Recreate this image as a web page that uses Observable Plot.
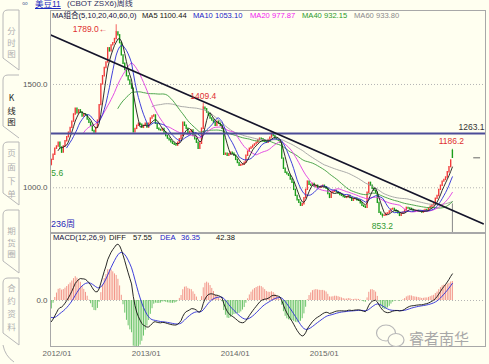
<!DOCTYPE html>
<html><head><meta charset="utf-8">
<script src="https://cdn.jsdelivr.net/npm/d3@7"></script>
<script src="https://cdn.jsdelivr.net/npm/@observablehq/plot@0.6"></script>
<style>
html,body{margin:0;padding:0;}
body{background:#fffff0;width:489px;height:364px;overflow:hidden;position:relative;font-family:"Liberation Sans","Noto Sans CJK SC",sans-serif;}
.abs{position:absolute;white-space:nowrap;}
.hdr{font-size:7.6px;line-height:11px;}
</style></head><body>
<svg id="chrome" class="abs" style="left:0;top:0;pointer-events:none" width="489" height="364"></svg>
<div id="price" class="abs" style="left:0;top:0"></div>
<div id="macd" class="abs" style="left:0;top:232px"></div>
<div id="texts"></div>
<svg id="wm" class="abs" style="left:0;top:0;pointer-events:none" width="489" height="364"></svg>
<script>
// ---------- data ----------
const firstWeek = "2011-12-09";
const closes = [
1135,1160,1189,1200,1218,1195,1170,1200,1225,1245,
1267,1290,1320,1355,1383,1360,1375,1364,1345,1355,
1350,1330,1315,1300,1275,1267,1290,1325,1400,1500,
1540,1580,1607,1675,1660,1689,1700,1720,1752,1738,
1700,1641,1600,1570,1540,1520,1500,1480,1268,1285,
1300,1310,1305,1290,1300,1310,1291,1310,1335,1345,
1350,1310,1286,1280,1277,1285,1267,1250,1238,1230,
1220,1213,1208,1204,1218,1235,1252,1315,1300,1286,
1262,1270,1277,1250,1235,1218,1189,1213,1286,1388,
1380,1364,1350,1335,1325,1315,1300,1320,1310,1300,
1285,1160,1165,1155,1162,1170,1165,1155,1135,1120,
1107,1110,1112,1121,1155,1175,1189,1195,1204,1210,
1218,1230,1238,1235,1228,1222,1218,1232,1243,1262,
1250,1238,1232,1228,1218,1141,1092,1073,1065,1058,
1040,1024,990,961,940,927,913,920,950,990,
1030,1015,1010,1019,1005,1010,1000,1000,1005,1010,
1003,995,970,951,976,980,985,978,971,965,
961,955,951,955,961,950,937,945,947,940,
937,925,913,908,903,976,1024,1010,995,985,
976,927,879,870,864,866,874,876,885,895,
898,890,885,876,864,875,880,890,903,900,
898,893,885,888,888,886,885,880,888,893,
890,900,908,915,920,947,960,990,1010,1030,
1038,1050,1075,1100,1132,1145
];
const openIdx = [0, 235];
const openVal = [1112, 1178];
const maPeriods = [5, 10, 20, 40, 60];
const maColors = ["#1a1a1a", "#2b2bd6", "#e03ce0", "#3c9c3c", "#a0a0a0"];
const maLabels = ["MA5 1100.44", "MA10 1053.10", "MA20 977.87", "MA40 932.15", "MA60 933.80"];
const maGroupLabel = "MA组合(5,10,20,40,60,0)";
const priceTicks = [1000, 1500];
const resistance = 1263.1;
const trendDates = ["2011-12-09", "2016-10-14"];
const trendPrices = [1738, 826];
const annoText = ["1789.0←", "1409.4", "1186.2", "853.2", "5.6"];
const annoIdx = [38, 89, 235, 194, 0];
const annoVal = [1789.0, 1409.4, 1186.2, 853.2, 1105.6];
const cursorTop = 922;
const macdParams = [12, 26, 9];
const macdSeed = [-45, -36];
const macdHeader = ["MACD(12,26,9)", "DIFF", "57.55", "DEA", "36.35", "42.38"];
const yearTicks = ["2012-01-01", "2013-01-01", "2014-01-01", "2015-01-01"];
const barCountLabel = "236周";
const titleParts = ["美豆11", "(CBOT  ZSX6)周线"];
const tabLabels = ["分时图", "K线图", "页面下单", "期货圈", "合约资料"];
const watermark = "睿者南华";

// ---------- derived ----------
const WEEK = 7 * 864e5;
const t0 = new Date(firstWeek + "T00:00:00Z");
const bars = closes.map((c, i) => {
  const j = openIdx.indexOf(i);
  const open = j >= 0 ? openVal[j] : closes[i - 1];
  return {i, date: new Date(+t0 + i * WEEK), open, close: c};
});
const xDomain = [new Date(+t0 - 0.5 * WEEK), new Date(+t0 + 254.4 * WEEK)];
const UP = "#f23c3c", DOWN = "#1a9e1a";

function sma(n) {
  return closes.map((_, i) => i < n - 1 ? NaN : d3.mean(closes.slice(i - n + 1, i + 1)));
}
const maSeries = maPeriods.map((n, k) =>
  sma(n).map((v, i) => ({date: bars[i].date, v})).filter(d => !isNaN(d.v)));

// MACD
const [fast, slow, sig] = macdParams;
const a1 = 2 / (fast + 1), a2 = 2 / (slow + 1), a3 = 2 / (sig + 1);
let e1 = closes[0], e2 = closes[0] - macdSeed[0], dea = macdSeed[1];
const macdRows = closes.map((c, i) => {
  if (i > 0) {
    e1 = a1 * c + (1 - a1) * e1;
    e2 = a2 * c + (1 - a2) * e2;
    dea = a3 * (e1 - e2) + (1 - a3) * dea;
  }
  const diff = e1 - e2;
  return {date: bars[i].date, diff, dea, hist: 2 * (diff - dea)};
});

const trend = trendDates.map((d, k) => ({date: new Date(d + "T00:00:00Z"), p: trendPrices[k]}));
const annos = annoText.map((t, k) => {
  const b = bars[annoIdx[k]];
  return {text: t, date: b.date, v: annoVal[k], b};
});

const font = "Liberation Sans, Noto Sans CJK SC, sans-serif";

// ---------- price panel ----------
const wickMarks = annos.map(a => {
  const hi = a.v > Math.max(a.b.open, a.b.close);
  const y1 = hi ? Math.max(a.b.open, a.b.close) : Math.min(a.b.open, a.b.close);
  return Plot.ruleX([a], {x: "date", y1: () => y1, y2: "v",
    stroke: a.b.close >= a.b.open ? UP : DOWN, strokeWidth: 0.8});
});
const annoStyle = [
  {textAnchor: "end", dx: -9, dy: 5, fill: "#e03030"},
  {textAnchor: "middle", dx: 0, dy: -7, fill: "#e03030"},
  {textAnchor: "middle", dx: -1, dy: -8, fill: "#e03030"},
  {textAnchor: "middle", dx: 0, dy: 8, fill: "#2f9a2f"},
  {textAnchor: "start", dx: 0, dy: 7, fill: "#2f9a2f"}
];
const annoMarks = annos.map((a, k) => Plot.text([a], {x: "date", y: "v", text: "text",
  fontSize: 8.5, ...annoStyle[k]}));

const lastBar = bars[bars.length - 1];
const pricePlot = Plot.plot({
  width: 489, height: 234,
  marginTop: 10, marginBottom: 2, marginLeft: 50, marginRight: 4,
  style: {background: "transparent", fontFamily: font, overflow: "visible"},
  x: {type: "utc", domain: xDomain, axis: null},
  y: {domain: [783.6, 1858]},
  marks: [
    Plot.ruleY(priceTicks, {stroke: "#b4b4b4", strokeDasharray: "1,2"}),
    Plot.axisY({ticks: priceTicks, tickFormat: d => d.toFixed(1), tickSize: 0, tickPadding: 3,
      fontSize: 8, color: "#555", label: null}),
    Plot.ruleX([lastBar], {x: "date", y1: () => cursorTop, y2: () => 783.6, stroke: "#888", strokeWidth: 1}),
    ...wickMarks,
    Plot.ruleX(bars.filter(d => d.close >= d.open), {x: "date", y1: "open", y2: "close",
      stroke: UP, strokeWidth: 1.4, strokeLinecap: "square", clip: true}),
    Plot.ruleX(bars.filter(d => d.close < d.open), {x: "date", y1: "open", y2: "close",
      stroke: DOWN, strokeWidth: 1.4, strokeLinecap: "square", clip: true}),
    ...maSeries.slice().reverse().map((s, r) => Plot.line(s, {x: "date", y: "v",
      stroke: maColors[maSeries.length - 1 - r], strokeWidth: 0.9, clip: true})),
    Plot.ruleY([resistance], {stroke: "#4c4c98", strokeWidth: 2}),
    Plot.text([resistance], {x: () => xDomain[1], y: d => d, text: d => d.toFixed(1),
      textAnchor: "end", dx: -1, dy: -6, fontSize: 8.5, fill: "#333"}),
    Plot.line(trend, {x: "date", y: "p", stroke: "#15152a", strokeWidth: 1.8, clip: true}),
    Plot.ruleY([lastBar], {x1: d => new Date(+d.date + 12.5 * WEEK), x2: d => new Date(+d.date + 16.5 * WEEK),
      y: "close", stroke: "#666", strokeWidth: 1}),
    ...annoMarks,
    Plot.frame({stroke: "#a8a8a8"})
  ]
});
document.getElementById("price").append(pricePlot);

// ---------- MACD panel ----------
const macdPlot = Plot.plot({
  width: 489, height: 132,
  marginTop: 1, marginBottom: 18, marginLeft: 50, marginRight: 4,
  style: {background: "transparent", fontFamily: font, overflow: "visible"},
  x: {type: "utc", domain: xDomain},
  y: {domain: [-97.9, 142.6]},
  marks: [
    Plot.ruleY([0], {stroke: "#b4b4b4", strokeDasharray: "1,2"}),
    Plot.axisY({ticks: [0], tickFormat: d => d.toFixed(1), tickSize: 0, tickPadding: 3,
      fontSize: 8, color: "#555", label: null}),
    Plot.axisX({ticks: yearTicks.map(d => new Date(d + "T00:00:00Z")), tickFormat: d3.utcFormat("%Y/%m"),
      tickSize: 0, tickPadding: 4, fontSize: 8, color: "#666", label: null}),
    Plot.ruleX(macdRows.filter(d => d.hist >= 0), {x: "date", y1: () => 0, y2: "hist",
      stroke: "#f3978b", strokeWidth: 1, clip: true}),
    Plot.ruleX(macdRows.filter(d => d.hist < 0), {x: "date", y1: () => 0, y2: "hist",
      stroke: "#6cc46c", strokeWidth: 1, clip: true}),
    Plot.line(macdRows, {x: "date", y: "dea", stroke: "#2a2ad8", strokeWidth: 0.9, clip: true}),
    Plot.line(macdRows, {x: "date", y: "diff", stroke: "#111", strokeWidth: 0.9, clip: true}),
    Plot.frame({stroke: "#a8a8a8"})
  ]
});
document.getElementById("macd").append(macdPlot);

// ---------- header texts ----------
const texts = document.getElementById("texts");
function addText(str, left, top, style) {
  const s = document.createElement("div");
  s.className = "abs hdr";
  s.textContent = str;
  s.style.left = left + "px";
  s.style.top = top + "px";
  Object.assign(s.style, style || {});
  texts.append(s);
  return s;
}
addText(maGroupLabel, 52, 10, {color: "#101040"});
const maLeft = [142, 193, 250, 302, 354];
const maTextColors = ["#111", "#2020c8", "#f020f0", "#2a9a2a", "#8a8a8a"];
maLabels.forEach((t, k) => addText(t, maLeft[k], 10, {color: maTextColors[k]}));
const mhLeft = [53, 109, 133, 160, 181, 216];
const mhColors = ["#101040", "#111", "#111", "#2020c8", "#2020c8", "#111"];
macdHeader.forEach((t, k) => addText(t, mhLeft[k], 232, {color: mhColors[k]}));
addText(barCountLabel, 51, 219, {color: "#2a2ab8", fontSize: "9px"});
addText(titleParts[0], 35, -1, {color: "#1a2ac0", fontSize: "8.5px", lineHeight: "10px", textDecoration: "underline"});
addText(titleParts[1], 67, -1, {color: "#303060", fontSize: "8px", lineHeight: "10px"});

// ---------- sidebar chrome ----------
const svg = d3.select("#chrome");
svg.append("text").attr("x", 22).attr("y", 6).attr("font-size", 8).attr("fill", "#6070a0").text("∞");
const tabBox = [[10, 70], [75, 138], [142, 205], [210, 273], [278, 345]];
const tabChars = [[30, 42, 53], [97, 110, 121], [152, 166, 180, 193], [230, 242, 253], [287, 300, 313, 326]];
tabBox.forEach(([y0, y1], k) => {
  const right = k === 1 ? "" : ` V${y0}`;
  svg.append("path")
    .attr("d", `M19,${y0} H8 Q3,${y0} 3,${y0 + 5} V${y1 - 12} L19,${y1}` + (k === 1 ? "" : ` V${y0}`))
    .attr("fill", "none").attr("stroke", "#b8b8b8").attr("stroke-width", 1);
  [...tabLabels[k]].forEach((ch, j) => {
    svg.append("text").attr("x", 11.5).attr("y", tabChars[k][j] + 3.5)
      .attr("text-anchor", "middle").attr("font-size", 8.5)
      .attr("font-family", "Noto Sans CJK SC, sans-serif")
      .attr("fill", k === 1 ? "#222" : "#b0b0b0").text(ch);
  });
});
svg.append("path").attr("d", "M3,345 Q5,356 14,362").attr("fill", "none").attr("stroke", "#b8b8b8");

// ---------- watermark ----------
const wsvg = d3.select("#wm");
const wm = wsvg.append("g").attr("fill", "#fffff0").attr("stroke", "#b8b8b8").attr("stroke-width", 1.2);
wm.append("ellipse").attr("cx", 386).attr("cy", 333).attr("rx", 9.5).attr("ry", 8);
wm.append("ellipse").attr("cx", 396).attr("cy", 340).attr("rx", 8).attr("ry", 6.5);
wsvg.append("text").attr("x", 409).attr("y", 344).attr("font-size", 15)
  .attr("font-family", "Noto Sans CJK SC, sans-serif").attr("fill", "#a8a8a8").text(watermark);
</script>
</body></html>
